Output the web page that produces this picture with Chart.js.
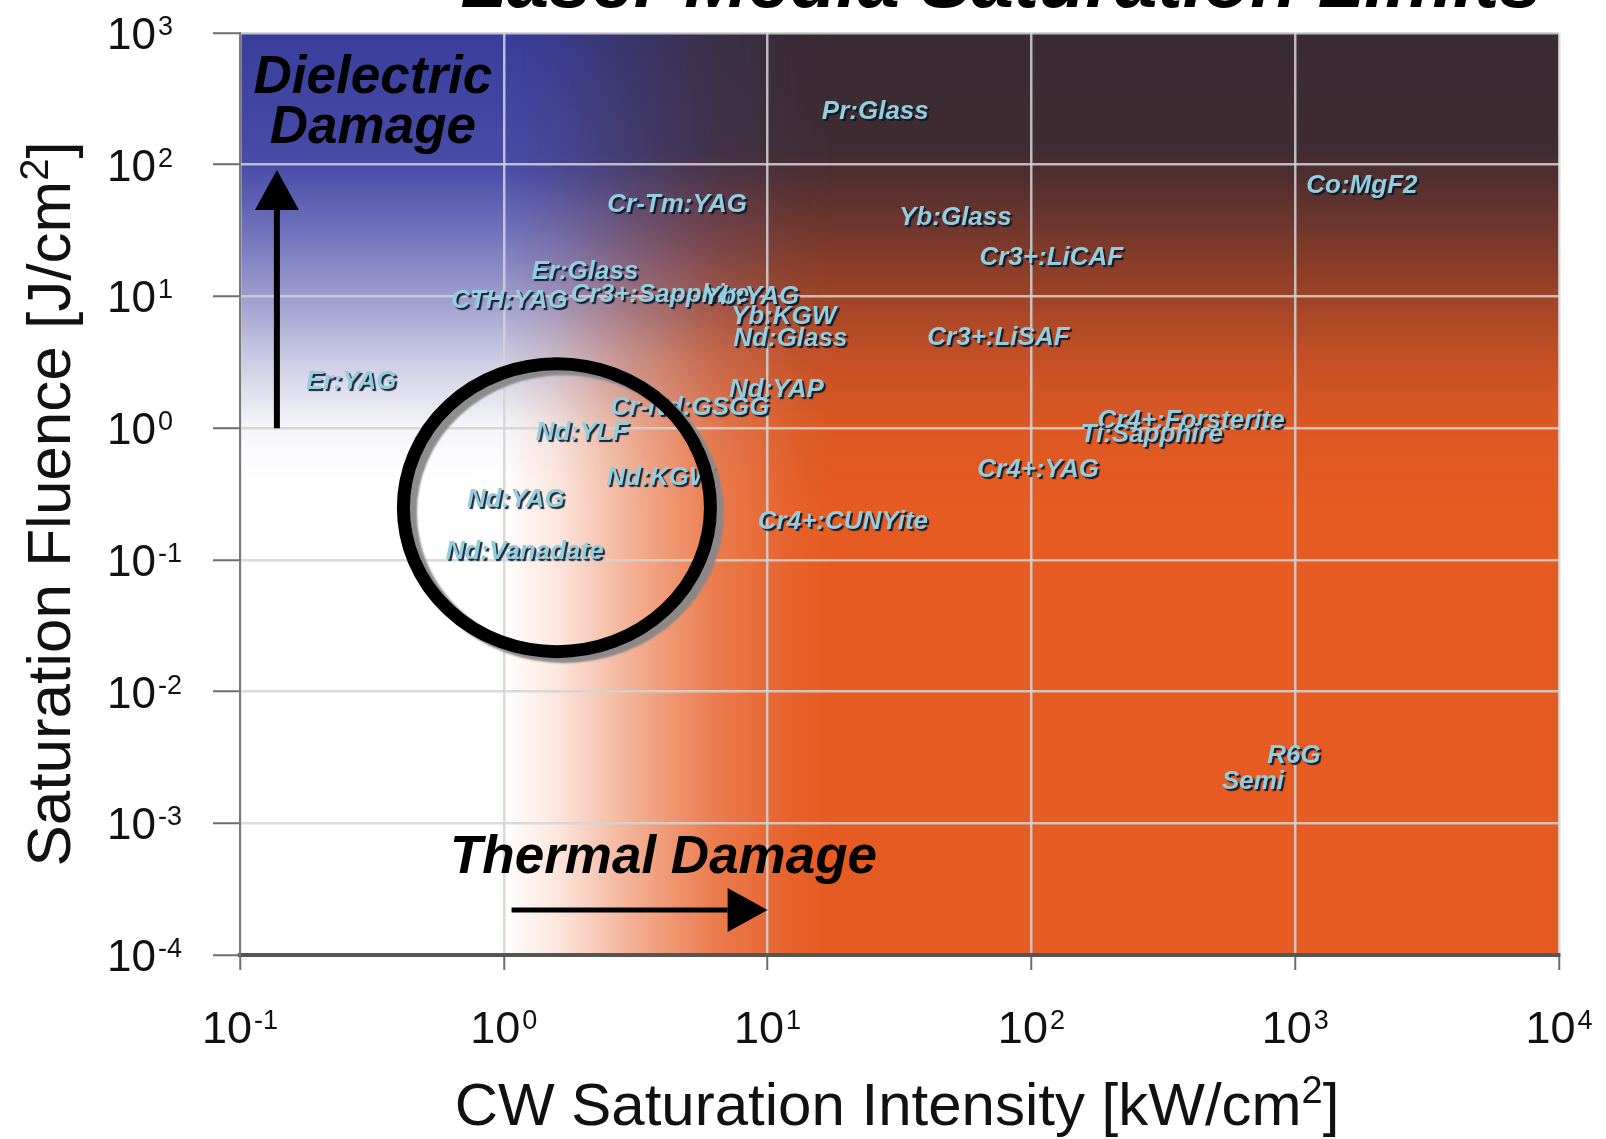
<!DOCTYPE html>
<html>
<head>
<meta charset="utf-8">
<title>Laser Media Saturation Limits</title>
<script src="https://cdn.jsdelivr.net/npm/chart.js@4.4.0/dist/chart.umd.min.js"></script>
<style>
  html, body { margin: 0; padding: 0; background: #fff; }
  #wrap { width: 1606px; height: 1139px; }
</style>
</head>
<body>
<div id="wrap"><canvas id="chart"></canvas></div>
<script>
// gain media: CW saturation intensity (kW/cm2) vs saturation fluence (J/cm2)
const materials = ['Pr:Glass', 'Co:MgF2', 'Cr-Tm:YAG', 'Yb:Glass', 'Cr3+:LiCAF', 'Er:Glass',
  'Cr3+:Sapphire', 'Yb:YAG', 'CTH:YAG', 'Yb:KGW', 'Nd:Glass', 'Cr3+:LiSAF', 'Er:YAG', 'Nd:YAP',
  'Cr-Nd:GSGG', 'Nd:YLF', 'Nd:KGW', 'Nd:YAG', 'Nd:Vanadate', 'Cr4+:CUNYite', 'Cr4+:Forsterite',
  'Ti:Sapphire', 'Cr4+:YAG', 'R6G', 'Semi'];
const intensity = [25.6, 1790, 4.54, 51.5, 119, 2.03,
  3.91, 8.65, 1.05, 11.5, 12.2, 75, 0.264, 10.8,
  5.08, 1.98, 3.91, 1.11, 1.20, 19.3, 403,
  286, 106, 989, 692];
const fluence = [251, 68.8, 49.2, 39.3, 19.5, 15.3,
  10.2, 9.87, 9.19, 6.95, 4.73, 4.82, 2.23, 1.94,
  1.42, 0.914, 0.417, 0.284, 0.116, 0.193, 1.13,
  0.883, 0.479, 0.00328, 0.00207];

const xTicks = [0.1, 1, 10, 100, 1000, 10000];
const xExp = ['-1', '0', '1', '2', '3', '4'];
const yTicks = [0.0001, 0.001, 0.01, 0.1, 1, 10, 100, 1000];
const yExp = ['-4', '-3', '-2', '-1', '0', '1', '2', '3'];

// annotations, in data units
const dielectricArrow = [[0.138, 1], [0.138, 91]];      // tail, tip
const thermalArrow = [[1.07, 0.00022], [10, 0.00022]];  // tail, tip
const dielectricText = [0.319, 349, 146];                // centre x, baseline line 1, line 2
const thermalText = [0.625, 0.000417];                   // left x, baseline
const circleCentre = [1.59, 0.249];
const circleHalfDecades = [0.582, 1.093];

const FONT = '"Liberation Sans", Arial, sans-serif';

// coloured backdrop of the plot area
const backdrop = {
  id: 'backdrop',
  beforeDraw(chart) {
    const { ctx, chartArea: a, scales: { x, y } } = chart;
    const h = a.bottom - a.top, w = a.right - a.left;
    const fy = lg => Math.min(1, Math.max(0, (y.getPixelForValue(Math.pow(10, lg)) - a.top) / h));
    const fx = lg => Math.min(1, Math.max(0, (x.getPixelForValue(Math.pow(10, lg)) - a.left) / w));

    // dark top fading into orange
    const right = ctx.createLinearGradient(0, a.top, 0, a.bottom);
    [[3, 'rgb(58,43,52)'], [2.1, 'rgb(64,44,50)'], [1.55, 'rgb(110,54,44)'], [1.0, 'rgb(158,67,40)'],
     [0.55, 'rgb(196,80,38)'], [0.0, 'rgb(220,88,35)'], [-0.6, 'rgb(230,91,34)'], [-4, 'rgb(230,91,34)']]
      .forEach(([lg, c]) => right.addColorStop(fy(lg), c));
    ctx.save();
    ctx.fillStyle = right;
    ctx.fillRect(a.left, a.top, w, h);

    // blue to white band on the left, faded out to the right
    const off = document.createElement('canvas');
    off.width = chart.width; off.height = chart.height;
    const o = off.getContext('2d');
    const left = o.createLinearGradient(0, a.top, 0, a.bottom);
    [[3, 'rgb(57,62,156)'], [2.0, 'rgb(72,76,166)'], [1.5, 'rgb(112,114,188)'], [1.0, 'rgb(156,156,206)'],
     [0.5, 'rgb(205,205,228)'], [0.0, 'rgb(246,246,250)'], [-0.4, 'rgb(255,255,255)'], [-4, 'rgb(255,255,255)']]
      .forEach(([lg, c]) => left.addColorStop(fy(lg), c));
    o.fillStyle = left;
    o.fillRect(a.left, a.top, w, h);
    const mask = o.createLinearGradient(a.left, 0, a.right, 0);
    [[-1, 1], [0, 1], [0.2, 0.85], [0.5, 0.5], [0.8, 0.2], [1.1, 0.04], [1.25, 0]]
      .forEach(([lg, al]) => mask.addColorStop(fx(lg), 'rgba(0,0,0,' + al + ')'));
    o.globalCompositeOperation = 'destination-in';
    o.fillStyle = mask;
    o.fillRect(a.left, a.top, w, h);
    ctx.drawImage(off, 0, 0);
    ctx.restore();
  }
};

function arrow(ctx, x1, y1, x2, y2, shaft) {
  const ang = Math.atan2(y2 - y1, x2 - x1);
  const len = 40, half = 22;
  const bx = x2 - Math.cos(ang) * len, by = y2 - Math.sin(ang) * len;
  ctx.strokeStyle = '#000';
  ctx.lineWidth = shaft;
  ctx.beginPath();
  ctx.moveTo(x1, y1);
  ctx.lineTo(bx, by);
  ctx.stroke();
  ctx.fillStyle = '#000';
  ctx.beginPath();
  ctx.moveTo(x2, y2);
  ctx.lineTo(bx - Math.sin(ang) * half, by + Math.cos(ang) * half);
  ctx.lineTo(bx + Math.sin(ang) * half, by - Math.cos(ang) * half);
  ctx.closePath();
  ctx.fill();
}

// material names, the circle and the damage notes
const notes = {
  id: 'notes',
  afterDatasetsDraw(chart) {
    const { ctx, scales: { x, y } } = chart;
    const meta = chart.getDatasetMeta(0);
    ctx.save();
    ctx.font = 'italic bold 26px ' + FONT;
    ctx.textAlign = 'center';
    ctx.textBaseline = 'middle';
    ctx.shadowColor = 'rgba(5,20,40,0.9)';
    ctx.shadowOffsetX = 2;
    ctx.shadowOffsetY = 2;
    ctx.shadowBlur = 1;
    ctx.fillStyle = '#94cddd';
    meta.data.forEach((pt, i) => ctx.fillText(materials[i], pt.x, pt.y));
    ctx.restore();

    // circle round the Nd group
    const cx = x.getPixelForValue(circleCentre[0]);
    const cy = y.getPixelForValue(circleCentre[1]);
    const rx = x.getPixelForValue(circleCentre[0] * Math.pow(10, circleHalfDecades[0])) - cx;
    const ry = cy - y.getPixelForValue(circleCentre[1] * Math.pow(10, circleHalfDecades[1]));
    ctx.save();
    ctx.shadowColor = 'rgba(135,135,135,0.95)';
    ctx.shadowOffsetX = 7;
    ctx.shadowOffsetY = 5;
    ctx.shadowBlur = 2;
    ctx.strokeStyle = '#000';
    ctx.lineWidth = 13;
    ctx.beginPath();
    ctx.ellipse(cx, cy, rx, ry, 0, 0, Math.PI * 2);
    ctx.stroke();
    ctx.restore();

    ctx.save();
    const p = pt => [x.getPixelForValue(pt[0]), y.getPixelForValue(pt[1])];
    let a = p(dielectricArrow[0]), b = p(dielectricArrow[1]);
    arrow(ctx, a[0], a[1], b[0], b[1], 6);
    a = p(thermalArrow[0]); b = p(thermalArrow[1]);
    arrow(ctx, a[0], a[1], b[0], b[1], 5);

    ctx.fillStyle = '#000';
    ctx.font = 'italic bold 53px ' + FONT;
    ctx.textBaseline = 'alphabetic';
    ctx.textAlign = 'center';
    const dx = x.getPixelForValue(dielectricText[0]);
    ctx.fillText('Dielectric', dx, y.getPixelForValue(dielectricText[1]));
    ctx.fillText('Damage', dx, y.getPixelForValue(dielectricText[2]));
    ctx.textAlign = 'left';
    ctx.fillText('Thermal Damage', x.getPixelForValue(thermalText[0]), y.getPixelForValue(thermalText[1]));
    ctx.restore();
  }
};

// powers of ten, axis titles and the clipped heading
const labels = {
  id: 'labels',
  afterDraw(chart) {
    const { ctx, chartArea: area, scales: { x, y } } = chart;
    ctx.save();
    ctx.fillStyle = '#111';
    ctx.textBaseline = 'alphabetic';
    ctx.textAlign = 'left';

    yTicks.forEach((v, i) => {
      const py = y.getPixelForValue(v);
      ctx.font = '44px ' + FONT;
      const w10 = ctx.measureText('10').width;
      ctx.fillText('10', 107, py + 16);
      ctx.font = '27px ' + FONT;
      ctx.fillText(yExp[i], 107 + w10 + 2, py + 2);
    });

    xTicks.forEach((v, i) => {
      const px = x.getPixelForValue(v);
      ctx.font = '45px ' + FONT;
      const w10 = ctx.measureText('10').width;
      ctx.font = '27px ' + FONT;
      const we = ctx.measureText(xExp[i]).width;
      const start = px - (w10 + 2 + we) / 2;
      ctx.font = '45px ' + FONT;
      ctx.fillText('10', start, area.bottom + 88);
      ctx.font = '27px ' + FONT;
      ctx.fillText(xExp[i], start + w10 + 2, area.bottom + 74);
    });

    // x title
    const xt = ['CW Saturation Intensity [kW/cm', '2', ']'];
    ctx.font = '60px ' + FONT;
    const a1 = ctx.measureText(xt[0]).width, a3 = ctx.measureText(xt[2]).width;
    ctx.font = '38px ' + FONT;
    const a2 = ctx.measureText(xt[1]).width;
    let sx = 897 - (a1 + a2 + a3) / 2;
    const base = area.bottom + 170;
    ctx.font = '60px ' + FONT;
    ctx.fillText(xt[0], sx, base);
    ctx.font = '38px ' + FONT;
    ctx.fillText(xt[1], sx + a1, base - 22);
    ctx.font = '60px ' + FONT;
    ctx.fillText(xt[2], sx + a1 + a2, base);

    // y title
    const yt = ['Saturation Fluence [J/cm', '2', ']'];
    ctx.translate(48, (area.top + area.bottom) / 2 + 10);
    ctx.rotate(-Math.PI / 2);
    ctx.font = '62px ' + FONT;
    const b1 = ctx.measureText(yt[0]).width, b3 = ctx.measureText(yt[2]).width;
    ctx.font = '40px ' + FONT;
    const b2 = ctx.measureText(yt[1]).width;
    sx = -(b1 + b2 + b3) / 2;
    ctx.font = '62px ' + FONT;
    ctx.fillText(yt[0], sx, 22);
    ctx.font = '40px ' + FONT;
    ctx.fillText(yt[1], sx + b1, 0);
    ctx.font = '62px ' + FONT;
    ctx.fillText(yt[2], sx + b1 + b2, 22);
    ctx.restore();

    // heading, cut off by the top edge
    ctx.save();
    ctx.fillStyle = '#000';
    ctx.font = 'italic bold 76px ' + FONT;
    ctx.textAlign = 'center';
    ctx.textBaseline = 'alphabetic';
    ctx.fillText('Laser Media Saturation Limits', 1001, 7);
    ctx.restore();
  }
};

const gridColor = 'rgba(212,212,212,0.85)';

new Chart(document.getElementById('chart'), {
  type: 'scatter',
  data: {
    datasets: [{
      data: materials.map((m, i) => ({ x: intensity[i], y: fluence[i] })),
      pointRadius: 0,
      pointHoverRadius: 0
    }]
  },
  options: {
    responsive: true,
    maintainAspectRatio: false,
    animation: false,
    devicePixelRatio: 1,
    layout: { padding: { left: 213, right: 47, top: 33, bottom: 169 } },
    plugins: { legend: { display: false }, tooltip: { enabled: false }, title: { display: false } },
    scales: {
      x: {
        type: 'logarithmic', min: 0.1, max: 10000,
        afterBuildTicks: s => { s.ticks = xTicks.map(v => ({ value: v })); },
        ticks: { display: false },
        grid: { color: gridColor, lineWidth: 2.5, drawTicks: true, tickLength: 15, tickColor: '#6d6d6d', tickWidth: 2 },
        border: { color: '#555', width: 4 }
      },
      y: {
        type: 'logarithmic', min: 0.0001, max: 1000,
        afterBuildTicks: s => { s.ticks = yTicks.map(v => ({ value: v })); },
        ticks: { display: false },
        grid: { color: gridColor, lineWidth: 2.5, drawTicks: true, tickLength: 27, tickColor: '#6d6d6d', tickWidth: 2 },
        border: { color: '#7a7a7a', width: 2 }
      }
    }
  },
  plugins: [backdrop, notes, labels]
});
</script>
</body>
</html>
